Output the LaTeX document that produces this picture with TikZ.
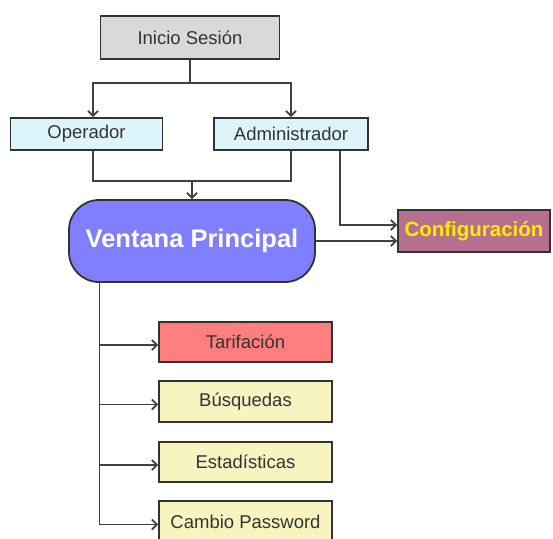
\documentclass[tikz,border=0pt]{standalone}
\usepackage{fontspec}
\setmainfont{Liberation Sans}
\usetikzlibrary{positioning, arrows.meta}

\definecolor{borde}{HTML}{333333}
\definecolor{linea}{HTML}{404040}
\definecolor{texto}{HTML}{333333}
\definecolor{gris}{HTML}{D9D9D9}
\definecolor{celeste}{HTML}{DDF5FA}
\definecolor{azul}{HTML}{7F7FFF}
\definecolor{malva}{HTML}{B5708F}
\definecolor{amarillo}{HTML}{FFEB00}
\definecolor{rojo}{HTML}{FF7F7F}
\definecolor{crema}{HTML}{F7F4C0}

\begin{document}
\begin{tikzpicture}[x=1pt, y=-1pt,
    caja/.style={draw=borde, line width=1.8pt, inner sep=0pt, text=texto,
        font=\fontsize{18.5}{20}\selectfont},
    conector/.style={draw=linea, line width=1.8pt},
    flecha/.style={conector, -{Straight Barb[length=5pt, width=10pt]}}]

    \useasboundingbox[fill=white] (0,0) rectangle (553,538);

    % nodos
    \node[caja, fill=gris, minimum width=179pt, minimum height=43pt] (inicio) at (190,37.5) {Inicio Sesión};
    \node[caja, fill=celeste, minimum width=152pt, minimum height=32pt] (operador) at (86.5,134) {Operador};
    \node[caja, fill=celeste, minimum width=154pt, minimum height=32pt] (admin) at (291,134) {Administrador};
    \node[caja, fill=azul, rounded corners=30pt, minimum width=246pt, minimum height=82pt, text=white,
        font=\fontsize{25.5}{28}\selectfont\bfseries] (ventana) at (192,241) {Ventana Principal};
    \node[caja, fill=malva, minimum width=152pt, minimum height=42pt, text=amarillo,
        font=\fontsize{20.5}{22}\selectfont\bfseries] (config) at (474,231) {Configuración};
    \node[caja, fill=rojo, minimum width=173pt, minimum height=40pt] (tarifa) at (245.5,342) {Tarifación};
    \node[caja, fill=crema, minimum width=173pt, minimum height=41pt] (busquedas) at (245.5,401.5) {Búsquedas};
    \node[caja, fill=crema, minimum width=173pt, minimum height=40pt] (estadisticas) at (245.5,462) {Estadísticas};
    \node[caja, fill=crema, minimum width=173pt, minimum height=41pt] (cambio) at (245.5,521.5) {Cambio Password};

    % inicio -> perfiles
    \draw[conector] (inicio.south) -- ++(0,23) coordinate (bifurca);
    \draw[flecha] (bifurca) -| ([xshift=6.5pt]operador.north);
    \draw[flecha] (bifurca) -| (admin.north);

    % perfiles -> ventana
    \draw[conector] ([xshift=6.5pt]operador.south) -- ++(0,30) coordinate (union) -| (admin.south);
    \draw[flecha] (ventana.north |- union) -- (ventana.north);

    % configuracion
    \draw[flecha] ([xshift=49pt]admin.south) |- ([yshift=6pt]config.west);
    \draw[flecha] (ventana.east) -- (ventana.east -| config.west);

    % opciones
    \path (ventana.south) ++(-92.5,0) coordinate (tronco);
    \draw[conector] (tronco) -- ([yshift=-3pt]cambio.west -| tronco);
    \foreach \opcion in {tarifa, busquedas, estadisticas, cambio}
        \draw[flecha] ([yshift=-3pt]\opcion.west -| tronco) -- ([yshift=-3pt]\opcion.west);
\end{tikzpicture}
\end{document}
